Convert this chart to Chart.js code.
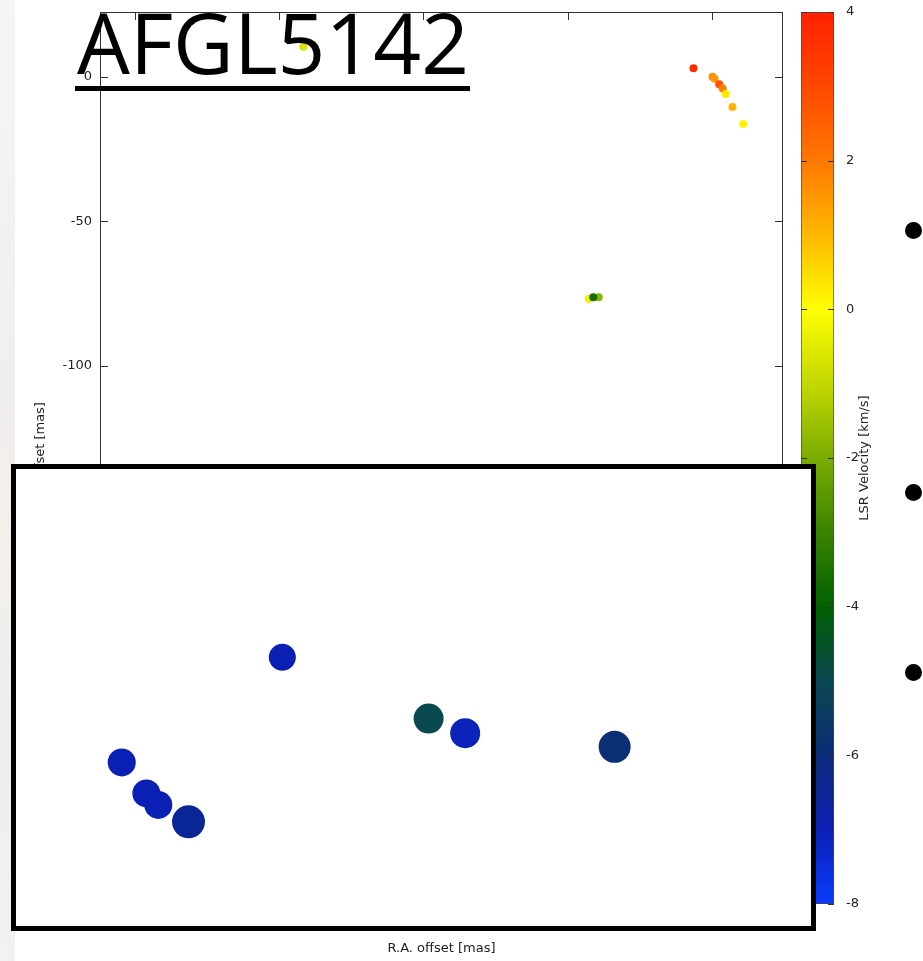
<!DOCTYPE html>
<html>
<head>
<meta charset="utf-8">
<script src="https://cdn.jsdelivr.net/npm/chart.js@4.4.0/dist/chart.umd.min.js"></script>
<style>
  html, body { margin: 0; padding: 0; background: #fff; }
  #page { position: relative; width: 923px; height: 961px; overflow: hidden; background: #fff; }
  #page canvas { position: absolute; }
  #strip { position: absolute; left: 0; top: 0; width: 15px; height: 961px;
           background: linear-gradient(180deg, #f6f5f5 0%, #f0eeee 40%, #f3f0ea 55%, #eeedf0 80%, #f2f2f4 100%); }
  #title { position: absolute; left: 77px; top: 0px; font: 500 84px "Open Sans", sans-serif; line-height: 84px;
           color: #000; white-space: nowrap; transform-origin: left top; }
  #uline { position: absolute; left: 75px; top: 86px; width: 395px; height: 5px; background: #000; }
  .bullet { position: absolute; left: 905px; width: 17px; height: 17px; border-radius: 50%; background: #000; }
  #inset { position: absolute; left: 11px; top: 464px; width: 795px; height: 457px;
           border: 5px solid #000; background: #fff; }
  #inset canvas { left: 0; top: 0; }
</style>
</head>
<body>
<div id="page">
  <div id="strip"></div>
  <canvas id="main" width="923" height="961" style="left:0;top:0"></canvas>
  <canvas id="cbar" width="133" height="961" style="left:790px;top:0"></canvas>
  <div id="title">AFGL5142</div>
  <div id="uline"></div>
  <div class="bullet" style="top:222px"></div>
  <div class="bullet" style="top:484px"></div>
  <div class="bullet" style="top:664px"></div>
  <div id="inset"><canvas id="zoom" width="795" height="457"></canvas></div>
</div>
<script>
// maser spots, main map (mas) and LSR velocity (km/s)
const raOffset  = [-6.5, 0.1, 0.8, 2.4, 3.6, 4.7, 7.0, 10.7, -42.8, -39.3, -41.2, -141.6];
const decOffset = [3.0, 0.1, -0.6, -2.5, -4.0, -5.9, -10.4, -16.3, -76.8, -76.2, -76.2, 10.5];
const vlsr      = [3.7, 1.7, 1.5, 2.8, 1.9, 0.3, 1.1, 0.2, -0.3, -1.8, -3.6, -0.7];

// zoomed-in panel (relative units)
const zoomX = [33.5, 13.3, 16.4, 17.9, 21.7, 51.9, 56.5, 75.3];
const zoomY = [58.8, 35.8, 29.0, 26.5, 22.8, 45.4, 42.2, 39.2];
const zoomV = [-7.0, -7.0, -7.0, -7.0, -6.5, -5.0, -7.1, -5.9];

// colour bar
const cbStops  = [-8, -7, -6, -5, -4, -3, -2, -1, 0, 1, 2, 3, 4];
const cbColors = ['#0a3cff', '#0a20b4', '#0a2c78', '#0a4850', '#006000', '#3a8400', '#7aac00',
                  '#c4d800', '#ffff00', '#ffb800', '#ff7800', '#ff4800', '#ff2000'];
const cbTitle = 'LSR Velocity [km/s]';

const tickFont = { family: '"DejaVu Sans", sans-serif', size: 13 };
const ink = '#222';

function hexRgb(h) { return [1, 3, 5].map(i => parseInt(h.slice(i, i + 2), 16)); }

function velColor(v) {
  v = Math.max(cbStops[0], Math.min(cbStops[cbStops.length - 1], v));
  for (let i = 0; i < cbStops.length - 1; i++) {
    if (v <= cbStops[i + 1]) {
      const t = (v - cbStops[i]) / (cbStops[i + 1] - cbStops[i]);
      const a = hexRgb(cbColors[i]), b = hexRgb(cbColors[i + 1]);
      return 'rgb(' + a.map((x, k) => Math.round(x + (b[k] - x) * t)).join(',') + ')';
    }
  }
}

// keep the plot boxes exactly where the layout puts them
function noOverflow(s) { s.paddingTop = 0; s.paddingBottom = 0; s.paddingLeft = 0; s.paddingRight = 0; }

// gnuplot style frame with inward ticks
const frameTicks = {
  id: 'frameTicks',
  afterDatasetsDraw(chart) {
    const { ctx, chartArea: a, scales: { x, y } } = chart;
    ctx.save();
    ctx.strokeStyle = '#333';
    ctx.lineWidth = 1;
    ctx.strokeRect(a.left + 0.5, a.top + 0.5, a.width - 1, a.height - 1);
    ctx.beginPath();
    x.ticks.forEach(t => {
      const p = Math.round(x.getPixelForValue(t.value)) + 0.5;
      ctx.moveTo(p, a.top); ctx.lineTo(p, a.top + 8);
      ctx.moveTo(p, a.bottom); ctx.lineTo(p, a.bottom - 8);
    });
    y.ticks.forEach(t => {
      const p = Math.round(y.getPixelForValue(t.value)) + 0.5;
      ctx.moveTo(a.left, p); ctx.lineTo(a.left + 8, p);
      ctx.moveTo(a.right, p); ctx.lineTo(a.right - 8, p);
    });
    ctx.stroke();
    ctx.restore();
  }
};

new Chart(document.getElementById('main'), {
  type: 'scatter',
  data: {
    datasets: [{
      data: raOffset.map((x, i) => ({ x, y: decOffset[i] })),
      backgroundColor: vlsr.map(velColor),
      borderWidth: 0,
      pointRadius: 4,
      pointHoverRadius: 4
    }]
  },
  options: {
    responsive: false,
    animation: false,
    devicePixelRatio: 1,
    layout: { autoPadding: false, padding: { top: 12, right: 140, bottom: 0, left: 0 } },
    plugins: { legend: { display: false }, tooltip: { enabled: false } },
    scales: {
      x: {
        type: 'linear', min: -212, max: 24.5,
        ticks: { display: false, stepSize: 50, includeBounds: false },
        grid: { display: false, drawTicks: false }, border: { display: false },
        title: { display: true, text: 'R.A. offset [mas]', color: ink, font: tickFont, padding: { top: 0, bottom: 5 } },
        afterFit: s => { s.height = 57; noOverflow(s); }
      },
      y: {
        type: 'linear', min: -286.2, max: 22.5,
        ticks: { stepSize: 50, includeBounds: false, color: ink, font: tickFont, padding: 8 },
        grid: { display: false, drawTicks: false }, border: { display: false },
        title: { display: true, text: 'Dec. offset [mas]', color: ink, font: tickFont, padding: { top: 33, bottom: 0 } },
        afterFit: s => { s.width = 100; noOverflow(s); }
      }
    }
  },
  plugins: [frameTicks]
});

// colour bar
const cbDecor = {
  id: 'cbDecor',
  afterDraw(chart) {
    const { ctx, chartArea: a, scales: { y } } = chart;
    ctx.save();
    ctx.strokeStyle = '#333';
    ctx.lineWidth = 1;
    ctx.beginPath();
    y.ticks.forEach(t => {
      const p = Math.round(y.getPixelForValue(t.value)) + 0.5;
      ctx.moveTo(a.left, p); ctx.lineTo(a.left + 6, p);
      ctx.moveTo(a.right, p); ctx.lineTo(a.right - 6, p);
    });
    ctx.stroke();
    ctx.translate(a.right + 31, (a.top + a.bottom) / 2);
    ctx.rotate(-Math.PI / 2);
    ctx.textAlign = 'center';
    ctx.textBaseline = 'middle';
    ctx.font = '13px "DejaVu Sans", sans-serif';
    ctx.fillStyle = ink;
    ctx.fillText(cbTitle, 0, 0);
    ctx.restore();
  }
};

new Chart(document.getElementById('cbar'), {
  type: 'bar',
  data: {
    labels: [''],
    datasets: [{
      data: [[cbStops[0], cbStops[cbStops.length - 1]]],
      backgroundColor: c => {
        const ch = c.chart;
        if (!ch.chartArea) return cbColors[0];
        const y = ch.scales.y;
        const lo = cbStops[0], hi = cbStops[cbStops.length - 1];
        const g = ch.ctx.createLinearGradient(0, y.getPixelForValue(lo), 0, y.getPixelForValue(hi));
        cbStops.forEach((s, i) => g.addColorStop((s - lo) / (hi - lo), cbColors[i]));
        return g;
      },
      borderColor: '#444',
      borderWidth: 1,
      borderSkipped: false,
      barPercentage: 1,
      categoryPercentage: 1
    }]
  },
  options: {
    responsive: false,
    animation: false,
    devicePixelRatio: 1,
    layout: { autoPadding: false, padding: { top: 12, right: 0, bottom: 57, left: 11 } },
    plugins: { legend: { display: false }, tooltip: { enabled: false } },
    scales: {
      x: { display: false },
      y: {
        position: 'right', min: cbStops[0], max: cbStops[cbStops.length - 1],
        ticks: { stepSize: 2, color: ink, font: tickFont, padding: 12 },
        grid: { display: false, drawTicks: false }, border: { display: false },
        afterFit: s => { s.width = 89; noOverflow(s); }
      }
    }
  },
  plugins: [cbDecor]
});

// zoomed panel
new Chart(document.getElementById('zoom'), {
  type: 'scatter',
  data: {
    datasets: [{
      data: zoomX.map((x, i) => ({ x, y: zoomY[i] })),
      backgroundColor: zoomV.map(velColor),
      borderWidth: 0,
      pointRadius: [13.5, 14, 14, 14, 16.5, 15, 15, 16],
      pointHoverRadius: [13.5, 14, 14, 14, 16.5, 15, 15, 16]
    }]
  },
  options: {
    responsive: false,
    animation: false,
    devicePixelRatio: 1,
    layout: { autoPadding: false, padding: 0 },
    plugins: { legend: { display: false }, tooltip: { enabled: false } },
    scales: {
      x: { type: 'linear', min: 0, max: 100, display: false },
      y: { type: 'linear', min: 0, max: 100, display: false }
    }
  }
});

// fit the slide title to the original width
const title = document.getElementById('title');
const tw = title.getBoundingClientRect().width;
title.style.transform = 'scaleX(' + (392 / tw) + ')';
</script>
</body>
</html>
